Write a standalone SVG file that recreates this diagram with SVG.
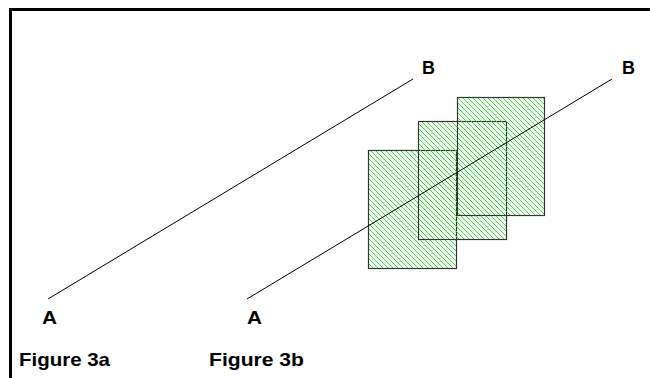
<svg xmlns="http://www.w3.org/2000/svg" width="650" height="378" viewBox="0 0 650 378">
<style>
.lbl{font-family:"Liberation Sans",Arial,sans-serif;font-weight:bold;font-size:18px;fill:#000}
.cap{font-family:"Liberation Sans",Arial,sans-serif;font-weight:bold;font-size:18.5px;fill:#000}
.rod{stroke:#000;stroke-width:1;fill:none}
.plate{fill:url(#hatch);stroke:#333;stroke-width:1.2}
</style>
<defs>
<pattern id="hatch" patternUnits="userSpaceOnUse" width="5" height="5">
<path d="M-1,-1 L6,6 M-1,4 L1,6 M4,-1 L6,1" stroke="#11ee11" stroke-width="0.9"/>
</pattern>
</defs>
<rect width="650" height="378" fill="#fff"/>
<g id="frame">
<path d="M10.5,378 L10.5,9.5 L650,9.5" stroke="#000" stroke-width="3" fill="none"/>
</g>
<g id="plates">
<rect id="plate1" class="plate" x="368.5" y="150.5" width="88" height="118"/>
<rect id="plate2" class="plate" x="418.5" y="121.5" width="88" height="118"/>
<rect id="plate3" class="plate" x="457.5" y="97.5" width="87" height="118"/>
</g>
<g id="connectors">
<line class="rod" x1="48" y1="299" x2="413" y2="79"/>
<line class="rod" x1="247" y1="299" x2="612" y2="79"/>
</g>
<g id="labels">
<text class="lbl" x="42" y="324" textLength="15" lengthAdjust="spacingAndGlyphs">A</text>
<text class="lbl" x="247" y="324" textLength="15" lengthAdjust="spacingAndGlyphs">A</text>
<text class="lbl" x="422" y="74" textLength="13" lengthAdjust="spacingAndGlyphs">B</text>
<text class="lbl" x="622" y="74" textLength="13" lengthAdjust="spacingAndGlyphs">B</text>
<text class="cap" x="19" y="366" textLength="91" lengthAdjust="spacingAndGlyphs">Figure 3a</text>
<text class="cap" x="209" y="366" textLength="95" lengthAdjust="spacingAndGlyphs">Figure 3b</text>
</g>
</svg>
